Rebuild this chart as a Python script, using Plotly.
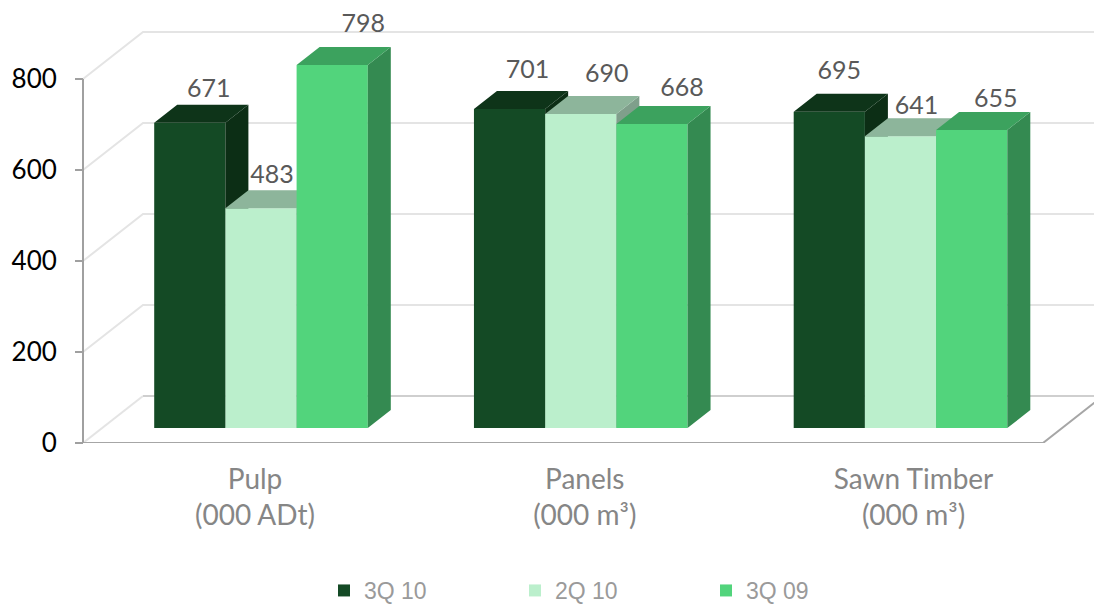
import plotly.graph_objects as go

# ---- data ----
products = ["Pulp<br>(000 ADt)", "Panels<br>(000 m³)", "Sawn Timber<br>(000 m³)"]
series_names = ["3Q 10", "2Q 10", "3Q 09"]
q3_10 = [671, 701, 695]
q2_10 = [483, 690, 641]
q3_09 = [798, 668, 655]
axis_ticks = [0, 200, 400, 600, 800]

# ---- styling ----
front_colors = ["#144a25", "#bbefcc", "#52d47c"]
top_colors = ["#0e3419", "#8db59b", "#3ca25e"]
side_colors = ["#0c2e15", "#7f9f8b", "#348a51"]

W, H = 1094, 607
PX_PER_UNIT = 0.455
AXIS_Y = 443
BAR_BASE_Y = 428
GROUP_X0 = 261
GROUP_STEP = 319.75
BAR_W_PX = 71.2

def xu(px):
    return (px - GROUP_X0) / GROUP_STEP

bar_w = BAR_W_PX / GROUP_STEP
bar_dx, bar_dy = 23 / GROUP_STEP, 18 / PX_PER_UNIT
wall_dx, wall_dy = 60 / GROUP_STEP, 47 / PX_PER_UNIT
x_left, x_right_front = xu(83), xu(1043)
x_max = xu(W)

# label nudges relative to each bar (pixels)
label_dx = [[19, 18, 10], [11, 26, 16], [31, 30, 24]]
label_lift = [[32, 37, 39], [31, 38, 29], [39, 34, 29]]
# tick label offsets relative to each group (pixels)
tick_nudge = [-6, 4, 13]

fig = go.Figure()

# walls and floor
gx, gy = [], []
for v in axis_ticks[1:]:
    gx += [x_left, x_left + wall_dx, x_max, None]
    gy += [v, v + wall_dy, v + wall_dy, None]
fig.add_trace(go.Scatter(x=gx, y=gy, mode="lines", line=dict(color="#e4e4e4", width=2),
                         showlegend=False, hoverinfo="skip"))
fig.add_trace(go.Scatter(x=[x_left, x_left + wall_dx], y=[0, wall_dy], mode="lines",
                         line=dict(color="#e4e4e4", width=2), showlegend=False, hoverinfo="skip"))
fig.add_trace(go.Scatter(x=[x_left + wall_dx, x_max], y=[wall_dy, wall_dy], mode="lines",
                         line=dict(color="#cfcfcf", width=2), showlegend=False, hoverinfo="skip"))
fig.add_trace(go.Scatter(x=[x_left, x_right_front, x_right_front + wall_dx], y=[0, 0, wall_dy], mode="lines",
                         line=dict(color="#a6a6a6", width=2), showlegend=False, hoverinfo="skip", cliponaxis=False))
fig.add_trace(go.Scatter(x=[x_left, x_left], y=[0, 800], mode="lines",
                         line=dict(color="#a0a0a0", width=2), showlegend=False, hoverinfo="skip", cliponaxis=False))

# bars: each series on its own overlaid axis so later series paint over earlier sides
all_vals = [q3_10, q2_10, q3_09]
cats = [0, 1, 2]
for s, vals in enumerate(all_vals):
    ya = f"y{s + 2}"
    off = (s - 1.5) * bar_w
    fig.add_trace(go.Bar(x=cats, y=vals, width=bar_w, offset=off, name=series_names[s],
                         marker=dict(color=front_colors[s], line=dict(width=0)),
                         yaxis=ya, hoverinfo="skip"))
    sx, sy, tx, ty = [], [], [], []
    for c, v in zip(cats, vals):
        xl = c + off
        xr = xl + bar_w
        sx += [xr, xr + bar_dx, xr + bar_dx, xr, xr, None]
        sy += [0, bar_dy, v + bar_dy, v, 0, None]
        tx += [xl, xr, xr + bar_dx, xl + bar_dx, xl, None]
        ty += [v, v, v + bar_dy, v + bar_dy, v, None]
    fig.add_trace(go.Scatter(x=sx, y=sy, mode="none", fill="toself", fillcolor=side_colors[s],
                             yaxis=ya, showlegend=False, hoverinfo="skip"))
    fig.add_trace(go.Scatter(x=tx, y=ty, mode="none", fill="toself", fillcolor=top_colors[s],
                             yaxis=ya, showlegend=False, hoverinfo="skip"))

# data labels
for s, vals in enumerate(all_vals):
    off = (s - 1) * bar_w
    fig.add_trace(go.Scatter(
        x=[c + off + d / GROUP_STEP for c, d in zip(cats, label_dx[s])],
        y=[v + l / PX_PER_UNIT for v, l in zip(vals, label_lift[s])],
        text=[str(v) for v in vals], mode="text", textposition="middle center",
        textfont=dict(family="Lato", size=25, color="#595959"),
        yaxis="y4", showlegend=False, hoverinfo="skip", cliponaxis=False))

top_v = AXIS_Y / PX_PER_UNIT
bar_low = -(AXIS_Y - BAR_BASE_Y) / PX_PER_UNIT
bar_range = [bar_low, BAR_BASE_Y / PX_PER_UNIT]

fig.update_layout(
    width=W, height=H, autosize=False,
    margin=dict(l=0, r=0, t=0, b=H - AXIS_Y, pad=0, autoexpand=False),
    paper_bgcolor="white", plot_bgcolor="white",
    barmode="overlay", showlegend=True,
    xaxis=dict(range=[xu(0), x_max], tickmode="array",
               tickvals=[c + n / GROUP_STEP for c, n in zip(cats, tick_nudge)],
               ticktext=products, showgrid=False, zeroline=False, showline=False,
               ticks="", ticklabelstandoff=17,
               tickfont=dict(family="Lato", size=28, color="#868686")),
    yaxis=dict(range=[0, top_v], anchor="free", position=83 / W, tickmode="array",
               tickvals=axis_ticks, showgrid=False, zeroline=False, showline=False,
               ticks="outside", ticklen=8, tickwidth=2, tickcolor="#a0a0a0",
               ticklabelstandoff=13,
               tickfont=dict(family="Lato", size=26, color="#000000")),
    yaxis2=dict(range=bar_range, overlaying="y", anchor="x", visible=False),
    yaxis3=dict(range=bar_range, overlaying="y", anchor="x", visible=False),
    yaxis4=dict(range=bar_range, overlaying="y", anchor="x", visible=False),
    legend=dict(orientation="h", x=324 / W, xanchor="left", y=-(569 - AXIS_Y) / AXIS_Y, yanchor="top",
                entrywidth=146, entrywidthmode="pixels", traceorder="normal",
                font=dict(family="Liberation Sans", size=23, color="#9a9a9a"),
                bgcolor="rgba(0,0,0,0)"),
)

fig.write_html("out.html", config={"displayModeBar": False},
               post_script="document.body.style.margin='0';")
